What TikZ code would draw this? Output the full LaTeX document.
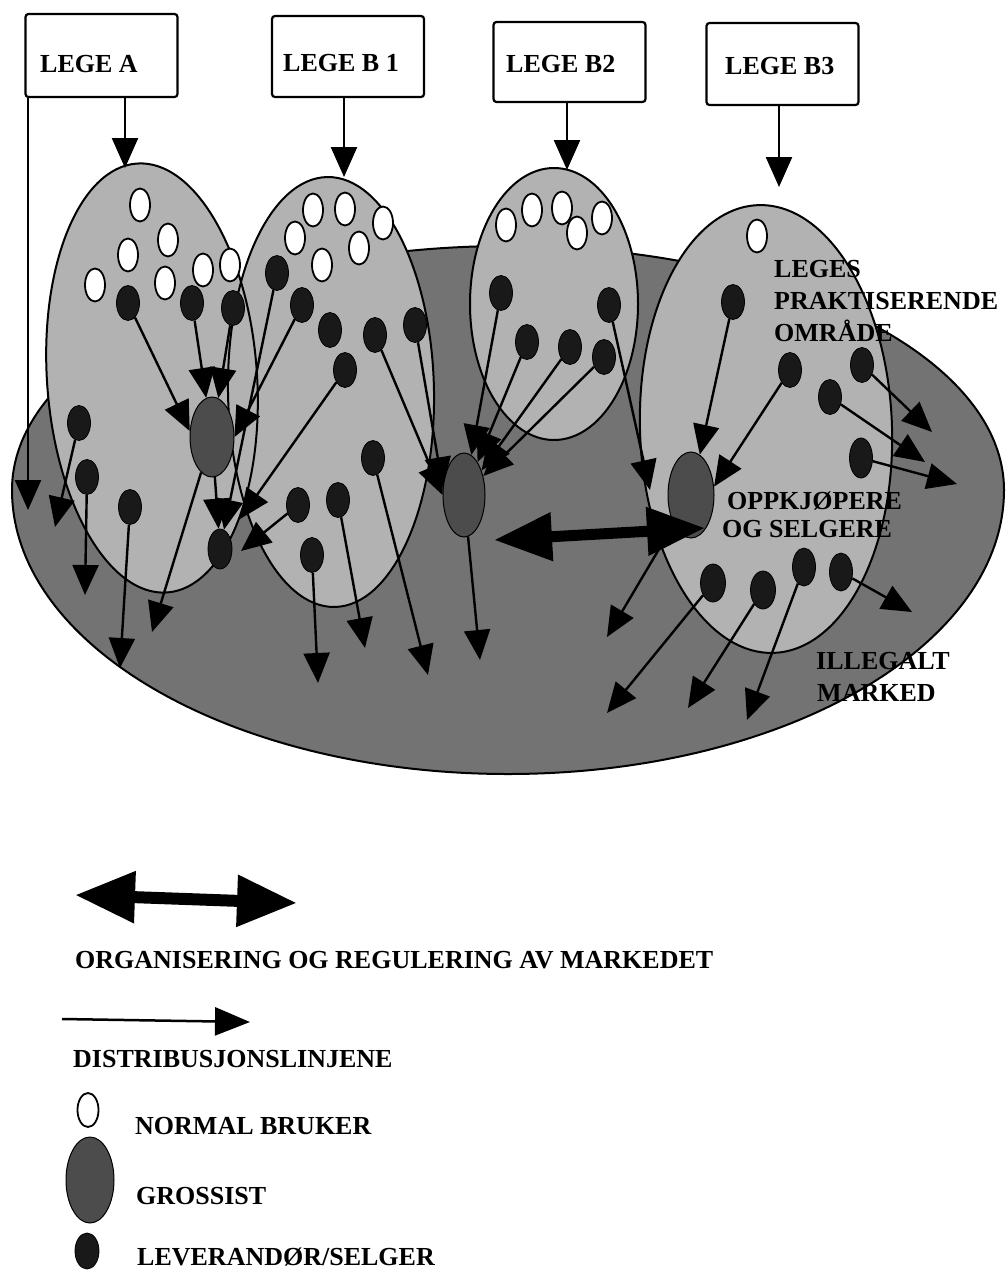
\documentclass[tikz,border=0pt]{standalone}
\usepackage{fontspec}
\setmainfont{Liberation Serif}
\usetikzlibrary{arrows.meta,shapes.geometric}
\definecolor{mkt}{gray}{0.45}
\definecolor{area}{gray}{0.70}
\definecolor{gros}{gray}{0.30}
\definecolor{lev}{gray}{0.10}
\begin{document}
\begin{tikzpicture}[x=1pt,y=-1pt,
  legebox/.style={draw, line width=2.2pt, rounded corners=3pt, fill=white, minimum width=152pt, inner sep=0pt},
  lbl/.style={font=\fontsize{26}{30}\selectfont\bfseries, inner sep=0pt, anchor=base west},
  wdot/.style={ellipse, draw, line width=1.8pt, fill=white, minimum width=20pt, minimum height=33pt, inner sep=0pt},
  bdot/.style={ellipse, fill=lev, draw=black, line width=0.8pt, minimum width=23pt, minimum height=35pt, inner sep=0pt},
  gdot/.style={ellipse, fill=gros, draw=black, line width=1pt, minimum width=44pt, minimum height=82pt, inner sep=0pt},
  dist/.style={line width=2.4pt, -{Triangle[length=30pt,width=26pt]}},
  reg/.style={line width=11pt, {Triangle[length=58pt,width=46pt]}-{Triangle[length=58pt,width=46pt]}},
  areafill/.style={fill=area},
  arealine/.style={draw=black, line width=2pt}
  ]
\useasboundingbox (0,0) rectangle (1008,1272);
\fill[white] (0,0) rectangle (1008,1272);

% ---------- market (illegal) ----------
\path[draw=black, line width=2pt, fill=mkt] (12,490)
  arc[start angle=180,end angle=0,x radius=496pt,y radius=244pt]
  arc[start angle=0,end angle=-180,x radius=496pt,y radius=284pt] -- cycle;

% ---------- practice areas ----------
\begin{scope}[rotate around={4:(152,378)}]
  \fill[areafill] (152,378) ellipse [x radius=105pt, y radius=215pt];
\end{scope}
\begin{scope}[rotate around={1:(331,392)}]
  \fill[areafill] (331,392) ellipse [x radius=103pt, y radius=215pt];
\end{scope}
\fill[areafill] (554,304) ellipse [x radius=84pt, y radius=136pt];
\begin{scope}[rotate around={2:(766,429)}]
  \fill[areafill] (766,429) ellipse [x radius=126pt, y radius=224pt];
\end{scope}
\begin{scope}[rotate around={4:(152,378)}]
  \draw[arealine] (152,378) ellipse [x radius=105pt, y radius=215pt];
\end{scope}
\begin{scope}[rotate around={1:(331,392)}]
  \draw[arealine] (331,392) ellipse [x radius=103pt, y radius=215pt];
\end{scope}
\draw[arealine] (554,304) ellipse [x radius=84pt, y radius=136pt];
\begin{scope}[rotate around={2:(766,429)}]
  \draw[arealine] (766,429) ellipse [x radius=126pt, y radius=224pt];
\end{scope}

% ---------- boxes ----------
\node[legebox, minimum height=83pt] (A) at (101.5,55.5) {};
\node[legebox, minimum height=81pt] (B1) at (348,56.5) {};
\node[legebox, minimum height=80pt] (B2) at (569.5,62) {};
\node[legebox, minimum height=82pt] (B3) at (782.5,64) {};
\node[lbl] at (40,72) {LEGE A};
\node[lbl] at (283,71) {LEGE B 1};
\node[lbl] at (506,72) {LEGE B2};
\node[lbl] at (725,74) {LEGE B3};

\coordinate (tA) at (125,168);
\coordinate (tB1) at (344,177);
\coordinate (tB2) at (567,170);
\coordinate (tB3) at (779,187);
\coordinate (tL) at (28,510);
\draw[dist] (A.south -| tA) -- (tA);
\draw[dist] (B1.south -| tB1) -- (tB1);
\draw[dist] (B2.south -| tB2) -- (tB2);
\draw[dist] (B3.south -| tB3) -- (tB3);
\draw[dist] (A.south west -| tL) -- (tL);

% ---------- normal users ----------
\node[wdot] (w1) at (140,205) {};
\node[wdot] (w2) at (168,240) {};
\node[wdot] (w3) at (128,255) {};
\node[wdot] (w4) at (95,285) {};
\node[wdot] (w5) at (165,283) {};
\node[wdot] (w6) at (203,270) {};
\node[wdot] (w7) at (230,265) {};
\node[wdot] (w8) at (313,210) {};
\node[wdot] (w9) at (345,209) {};
\node[wdot] (w10) at (383,223) {};
\node[wdot] (w11) at (295,238) {};
\node[wdot] (w12) at (359,248) {};
\node[wdot] (w13) at (322,265) {};
\node[wdot] (w14) at (506,225) {};
\node[wdot] (w15) at (532,210) {};
\node[wdot] (w16) at (562,208) {};
\node[wdot] (w17) at (577,233) {};
\node[wdot] (w18) at (602,218) {};
\node[wdot] (w19) at (757,236) {};

% ---------- wholesalers ----------
\node[gdot, minimum height=80pt] (gA) at (212,437) {};
\node[gdot, minimum width=42pt, minimum height=84pt] (gB) at (464,495) {};
\node[gdot, minimum width=46pt, minimum height=86pt] (gC) at (691,495) {};

% ---------- suppliers ----------
\node[bdot] (a1) at (128,303) {};
\node[bdot] (a2) at (192,303) {};
\node[bdot] (a3) at (233,308) {};
\node[bdot] (a4) at (79,423) {};
\node[bdot] (a5) at (87,477) {};
\node[bdot] (a6) at (130,507) {};
\node[bdot, minimum width=24pt, minimum height=40pt] (sA) at (220,549) {};
\node[bdot] (b1) at (277,273) {};
\node[bdot] (b2) at (302,305) {};
\node[bdot] (b3) at (330,330) {};
\node[bdot] (b4) at (375,335) {};
\node[bdot] (b5) at (415,325) {};
\node[bdot] (b6) at (345,370) {};
\node[bdot] (b7) at (373,458) {};
\node[bdot] (b8) at (298,505) {};
\node[bdot] (b9) at (338,500) {};
\node[bdot] (b10) at (312,555) {};
\node[bdot] (c1) at (501,293) {};
\node[bdot] (c2) at (527,342) {};
\node[bdot] (c3) at (570,347) {};
\node[bdot] (c4) at (604,357) {};
\node[bdot] (c5) at (609,305) {};
\node[bdot] (d1) at (733,302) {};
\node[bdot] (d2) at (790,370) {};
\node[bdot] (d3) at (830,397) {};
\node[bdot] (d4) at (862,365) {};
\node[bdot, minimum height=40pt] (d5) at (861,458) {};
\node[bdot, minimum width=25pt, minimum height=38pt] (d6) at (713,583) {};
\node[bdot, minimum width=25pt, minimum height=38pt] (d7) at (763,590) {};
\node[bdot, minimum height=38pt] (d8) at (804,567) {};
\node[bdot, minimum height=38pt] (d9) at (841,572) {};

% ---------- free ends ----------
\coordinate (e1) at (55,527);
\coordinate (e2) at (85,595);
\coordinate (e3) at (120,668);
\coordinate (e4) at (152,632);
\coordinate (e5) at (240,519);
\coordinate (e6) at (241,551);
\coordinate (e7) at (318,683);
\coordinate (e8) at (365,648);
\coordinate (e9) at (428,675);
\coordinate (e10) at (480,660);
\coordinate (e11) at (650,490);
\coordinate (e12) at (932,432);
\coordinate (e13) at (925,462);
\coordinate (e14) at (957,484);
\coordinate (e15) at (607,637);
\coordinate (e16) at (607,713);
\coordinate (e17) at (688,708);
\coordinate (e18) at (747,720);
\coordinate (e19) at (912,612);

% ---------- distribution lines ----------
\draw[dist] (a1) -- (gA.165);
\draw[dist] (a2) -- (gA);
\draw[dist] (a3) -- (gA);
\draw[dist] (b2) -- (gA.east);
\draw[dist] (a4) -- (e1);
\draw[dist] (a5) -- (e2);
\draw[dist] (a6) -- (e3);
\draw[dist] (gA) -- (e4);
\draw[dist] (gA) -- (sA);
\draw[dist] (b1) -- (sA);
\draw[dist] (b6) -- (e5);
\draw[dist] (b8) -- (e6);
\draw[dist] (b10) -- (e7);
\draw[dist] (b9) -- (e8);
\draw[dist] (b7) -- (e9);
\draw[dist] (b4) -- (gB.west);
\draw[dist] (b5) -- (gB.160);
\draw[dist] (c1) -- (gB);
\draw[dist] (c2) -- (gB);
\draw[dist] (c3) -- (gB);
\draw[dist] (c4) -- (gB);
\draw[dist] (c5) -- (e11);
\draw[dist] (gB) -- (e10);
\draw[dist] (d1) -- (gC);
\draw[dist] (d2) -- (gC.20);
\draw[dist] (d4) -- (e12);
\draw[dist] (d3) -- (e13);
\draw[dist] (d5) -- (e14);
\draw[dist] (gC) -- (e15);
\draw[dist] (d6) -- (e16);
\draw[dist] (d7) -- (e17);
\draw[dist] (d8) -- (e18);
\draw[dist] (d9) -- (e19);

% ---------- organisation / regulation ----------
\coordinate (rL) at (494,540);
\coordinate (rR) at (705,528);
\draw[reg] (rL) -- (rR);

% ---------- area labels ----------
\node[lbl] at (774,277) {LEGES};
\node[lbl] at (774,309) {PRAKTISERENDE};
\node[lbl] at (774,341) {OMRÅDE};
\node[lbl] at (727,509) {OPPKJØPERE};
\node[lbl] at (722,537) {OG SELGERE};
\node[lbl] at (816,669) {ILLEGALT};
\node[lbl] at (817,701) {MARKED};

% ---------- legend ----------
\coordinate (lgL) at (75,895);
\coordinate (lgR) at (297,903);
\draw[reg, line width=12pt, {Triangle[length=60pt,width=49pt]}-{Triangle[length=60pt,width=49pt]}] (lgL) -- (lgR);
\node[lbl] at (75,968) {ORGANISERING OG REGULERING AV MARKEDET};
\coordinate (ldL) at (62,1019);
\coordinate (ldR) at (250,1022);
\draw[line width=2.5pt, -{Triangle[length=35pt,width=28pt]}] (ldL) -- (ldR);
\node[lbl] at (73,1067) {DISTRIBUSJONSLINJENE};
\node[wdot, minimum width=21pt, minimum height=34pt] (lw) at (88,1110) {};
\node[lbl] at (135,1134) {NORMAL BRUKER};
\node[gdot, minimum width=48pt, minimum height=86pt] (lg) at (90,1180) {};
\node[lbl] at (136,1204) {GROSSIST};
\node[bdot, minimum width=24pt, minimum height=36pt] (ll) at (87,1251) {};
\node[lbl] at (137,1265) {LEVERANDØR/SELGER};
\end{tikzpicture}
\end{document}
